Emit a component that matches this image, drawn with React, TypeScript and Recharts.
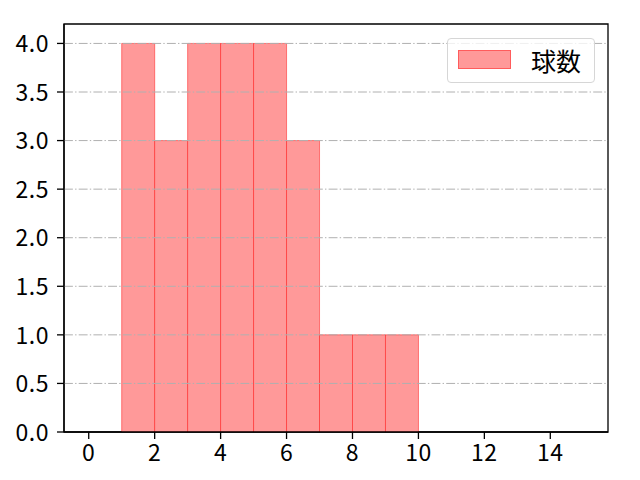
import React from "react";
import {
  ComposedChart,
  Bar,
  XAxis,
  YAxis,
  ReferenceLine,
  ReferenceArea,
  Legend,
} from "recharts";

const binStarts = [1, 2, 3, 4, 5, 6, 7, 8, 9];
const counts = [4, 3, 4, 4, 4, 3, 1, 1, 1];
const binWidth = 1;
const xTicks = [0, 2, 4, 6, 8, 10, 12, 14];
const yTicks = [0, 0.5, 1, 1.5, 2, 2.5, 3, 3.5, 4];
const gridLevels = [0.5, 1, 1.5, 2, 2.5, 3, 3.5, 4];
const xDomain: [number, number] = [-0.75, 15.75];
const yDomain: [number, number] = [0, 4.2];
const seriesName = "球数";

const data = binStarts.map((s, i) => ({ x: s + binWidth / 2, count: counts[i] }));

const FONT = "'Noto Sans CJK JP', 'DejaVu Sans', sans-serif";
const TICK_FONT_SIZE = 23;

const XTick = (props: any) => {
  const { x, y, payload } = props;
  return (
    <text
      x={x}
      y={y}
      dy="0.71em"
      textAnchor="middle"
      fontFamily={FONT}
      fontSize={TICK_FONT_SIZE}
      fill="#000"
      letterSpacing={0.5}
    >
      {String(payload.value)}
    </text>
  );
};

const YTick = (props: any) => {
  const { x, y, payload } = props;
  return (
    <text
      x={x}
      y={y}
      dy="0.38em"
      textAnchor="end"
      fontFamily={FONT}
      fontSize={TICK_FONT_SIZE}
      fill="#000"
      letterSpacing={0.5}
    >
      {Number(payload.value).toFixed(1)}
    </text>
  );
};

const LegendBox = () => (
  <div
    style={{
      width: 148,
      height: 45,
      border: "1px solid #d6d6d6",
      borderRadius: 4,
      background: "rgba(255,255,255,0.8)",
      boxSizing: "border-box",
      position: "relative",
      fontFamily: FONT,
    }}
  >
    <div
      style={{
        position: "absolute",
        left: 10,
        top: 11,
        width: 53,
        height: 19,
        background: "#ff9999",
        border: "1px solid rgba(255,0,0,0.4)",
        boxSizing: "border-box",
      }}
    />
    <div
      style={{
        position: "absolute",
        left: 83,
        top: 5,
        fontSize: 25,
        lineHeight: "32px",
        color: "#000",
        whiteSpace: "nowrap",
      }}
    >
      {seriesName}
    </div>
  </div>
);

export default function App() {
  return (
    <div style={{ position: "absolute", left: 0, top: 0, width: 640, height: 480, background: "#fff" }}>
      <ComposedChart
        width={640}
        height={480}
        data={data}
        margin={{ top: 24, right: 32, bottom: 0, left: 0 }}
        barCategoryGap={0}
        barGap={0}
      >
        <XAxis
          dataKey="x"
          type="number"
          domain={xDomain}
          ticks={xTicks}
          allowDataOverflow
          height={48}
          tickSize={7}
          tickMargin={6}
          tick={<XTick />}
          axisLine={{ stroke: "#000", strokeWidth: 1.3 }}
          tickLine={{ stroke: "#000", strokeWidth: 1.3 }}
        />
        <YAxis
          type="number"
          domain={yDomain}
          ticks={yTicks}
          allowDataOverflow
          width={64}
          tickSize={7}
          tickMargin={8}
          tick={<YTick />}
          axisLine={{ stroke: "#000", strokeWidth: 1.3 }}
          tickLine={{ stroke: "#000", strokeWidth: 1.3 }}
        />
        <Bar
          dataKey="count"
          name={seriesName}
          fill="#ff9999"
          stroke="rgba(255,0,0,0.45)"
          strokeWidth={1}
          isAnimationActive={false}
        />
        {gridLevels.map((g) => (
          <ReferenceLine
            key={g}
            y={g}
            stroke="#b0b0b0"
            strokeWidth={1}
            strokeDasharray="8.9 2.2 1.4 2.2"
          />
        ))}
        <ReferenceArea
          x1={xDomain[0]}
          x2={xDomain[1]}
          y1={yDomain[0]}
          y2={yDomain[1]}
          fill="none"
          fillOpacity={0}
          stroke="#000"
          strokeWidth={1.3}
          strokeOpacity={1}
          ifOverflow="visible"
        />
        <Legend
          layout="horizontal"
          verticalAlign="middle"
          align="center"
          wrapperStyle={{ left: 447, top: 38, width: 148, height: 45 }}
          content={() => <LegendBox />}
        />
      </ComposedChart>
    </div>
  );
}
